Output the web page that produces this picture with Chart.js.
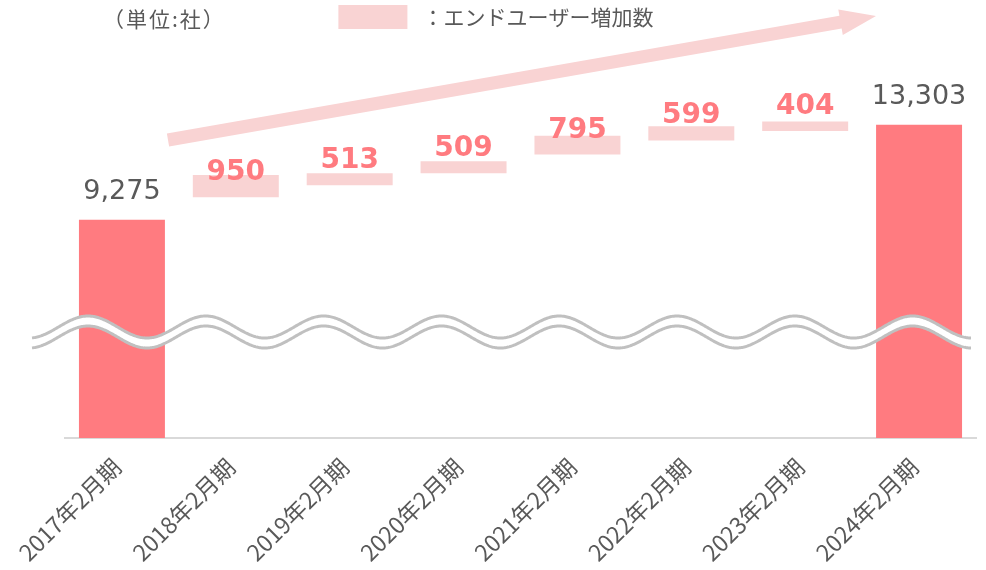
<!DOCTYPE html>
<html>
<head>
<meta charset="utf-8">
<script src="https://cdn.jsdelivr.net/npm/chart.js@4"></script>
<style>
  html, body { margin: 0; padding: 0; background: #fff; }
  #wrap { width: 986px; height: 570px; }
</style>
</head>
<body>
<div id="wrap"><canvas id="chart" width="986" height="570"></canvas></div>
<script>
const labels = ["2017年2月期", "2018年2月期", "2019年2月期", "2020年2月期", "2021年2月期", "2022年2月期", "2023年2月期", "2024年2月期"];
const totals = [9275, null, null, null, null, null, null, 13303];
const increases = [null, 950, 513, 509, 795, 599, 404, null];
const unitText = "（単位:社）";
const legendText = " ：エンドユーザー増加数";

const red = "#FF7B80";
const pink = "#F9D3D3";
const gray = "#595959";

// floating bars: from running total (after adding) up by the increase
var running = totals[0];
const floating = increases.map(function (v) {
    if (v === null) return null;
    running += v;
    return [running, running + v];
});

const decor = {
    id: "decor",
    beforeDatasetsDraw: function (chart) {
        var ctx = chart.ctx;
        ctx.save();
        // unit
        ctx.fillStyle = gray;
        ctx.font = "21px 'Noto Sans CJK JP'";
        ctx.letterSpacing = "2px";
        ctx.textBaseline = "middle";
        ctx.textAlign = "left";
        ctx.fillText(unitText, 103, 19);
        ctx.letterSpacing = "0px";

        // big arrow
        var x0 = 168, y0 = 140, x1 = 876, y1 = 16;
        var ang = Math.atan2(y1 - y0, x1 - x0);
        var len = Math.hypot(x1 - x0, y1 - y0);
        ctx.translate(x0, y0);
        ctx.rotate(ang);
        ctx.fillStyle = pink;
        ctx.beginPath();
        ctx.moveTo(0, -6.5);
        ctx.lineTo(len - 36, -6.5);
        ctx.lineTo(len - 36, -13);
        ctx.lineTo(len, 0);
        ctx.lineTo(len - 36, 13);
        ctx.lineTo(len - 36, 6.5);
        ctx.lineTo(0, 6.5);
        ctx.closePath();
        ctx.fill();
        ctx.restore();
    },
    afterDatasetsDraw: function (chart) {
        var ctx = chart.ctx;
        ctx.save();
        // wave break
        var xa = 32, xb = 971, per = 117.8, amp = 11;
        function wy(x, c) { return c - amp * Math.cos(2 * Math.PI * (x - 88) / per); }
        ctx.beginPath();
        for (var x = xa; x <= xb; x++) {
            if (x === xa) ctx.moveTo(x, wy(x, 327)); else ctx.lineTo(x, wy(x, 327));
        }
        for (var x2 = xb; x2 >= xa; x2--) ctx.lineTo(x2, wy(x2, 337));
        ctx.closePath();
        ctx.fillStyle = "#fff";
        ctx.fill();
        ctx.strokeStyle = "#C0C0C0";
        ctx.lineWidth = 3;
        [327, 337].forEach(function (c) {
            ctx.beginPath();
            for (var x = xa; x <= xb; x++) {
                if (x === xa) ctx.moveTo(x, wy(x, c)); else ctx.lineTo(x, wy(x, c));
            }
            ctx.stroke();
        });

        // value labels
        ctx.textAlign = "center";
        ctx.textBaseline = "alphabetic";
        var m0 = chart.getDatasetMeta(0);
        ctx.fillStyle = gray;
        ctx.font = "27px 'DejaVu Sans'";
        totals.forEach(function (v, i) {
            if (v === null) return;
            var el = m0.data[i];
            ctx.fillText(v.toLocaleString("en-US"), el.x, el.y - 21);
        });
        var m1 = chart.getDatasetMeta(1);
        ctx.fillStyle = red;
        ctx.font = "bold 28px 'DejaVu Sans'";
        increases.forEach(function (v, i) {
            if (v === null) return;
            var el = m1.data[i];
            ctx.fillText(String(v), el.x, el.base - 17);
        });
        ctx.restore();
    }
};

const ctx = document.getElementById("chart").getContext("2d");
const chart = new Chart(ctx, {
    type: "bar",
    data: {
        labels: labels,
        datasets: [
            {
                label: "total",
                data: totals,
                backgroundColor: red,
                grouped: false,
                barPercentage: 0.755,
                categoryPercentage: 1,
            },
            {
                label: legendText,
                data: floating,
                backgroundColor: pink,
                grouped: false,
                barPercentage: 0.755,
                categoryPercentage: 1,
            },
        ],
    },
    options: {
        responsive: false,
        animation: false,
        layout: { padding: { left: 16, right: 10, top: 0, bottom: 0 } },
        plugins: {
            tooltip: { enabled: false },
            legend: {
                display: true,
                position: "top",
                labels: {
                    filter: function (item) { return item.datasetIndex === 1; },
                    boxWidth: 69,
                    boxHeight: 24,
                    color: gray,
                    font: { family: "'Noto Sans CJK JP'", size: 21 },
                    padding: 5,
                },
            },
        },
        scales: {
            x: {
                grid: { display: false, drawTicks: false },
                border: { display: true, color: "#D9D9D9", width: 2 },
                ticks: {
                    minRotation: 45,
                    maxRotation: 45,
                    color: gray,
                    padding: 15,
                    labelOffset: -5,
                    font: { family: "'Noto Sans CJK JP'", size: 23 },
                },
                afterFit: function (scale) { scale.height = 132; },
            },
            y: {
                min: 0,
                max: 16950,
                grid: { display: false, drawTicks: false },
                border: { display: false },
                ticks: { display: false },
                afterFit: function (scale) { scale.width = 49; },
            },
        },
    },
    plugins: [decor],
});
</script>
</body>
</html>
